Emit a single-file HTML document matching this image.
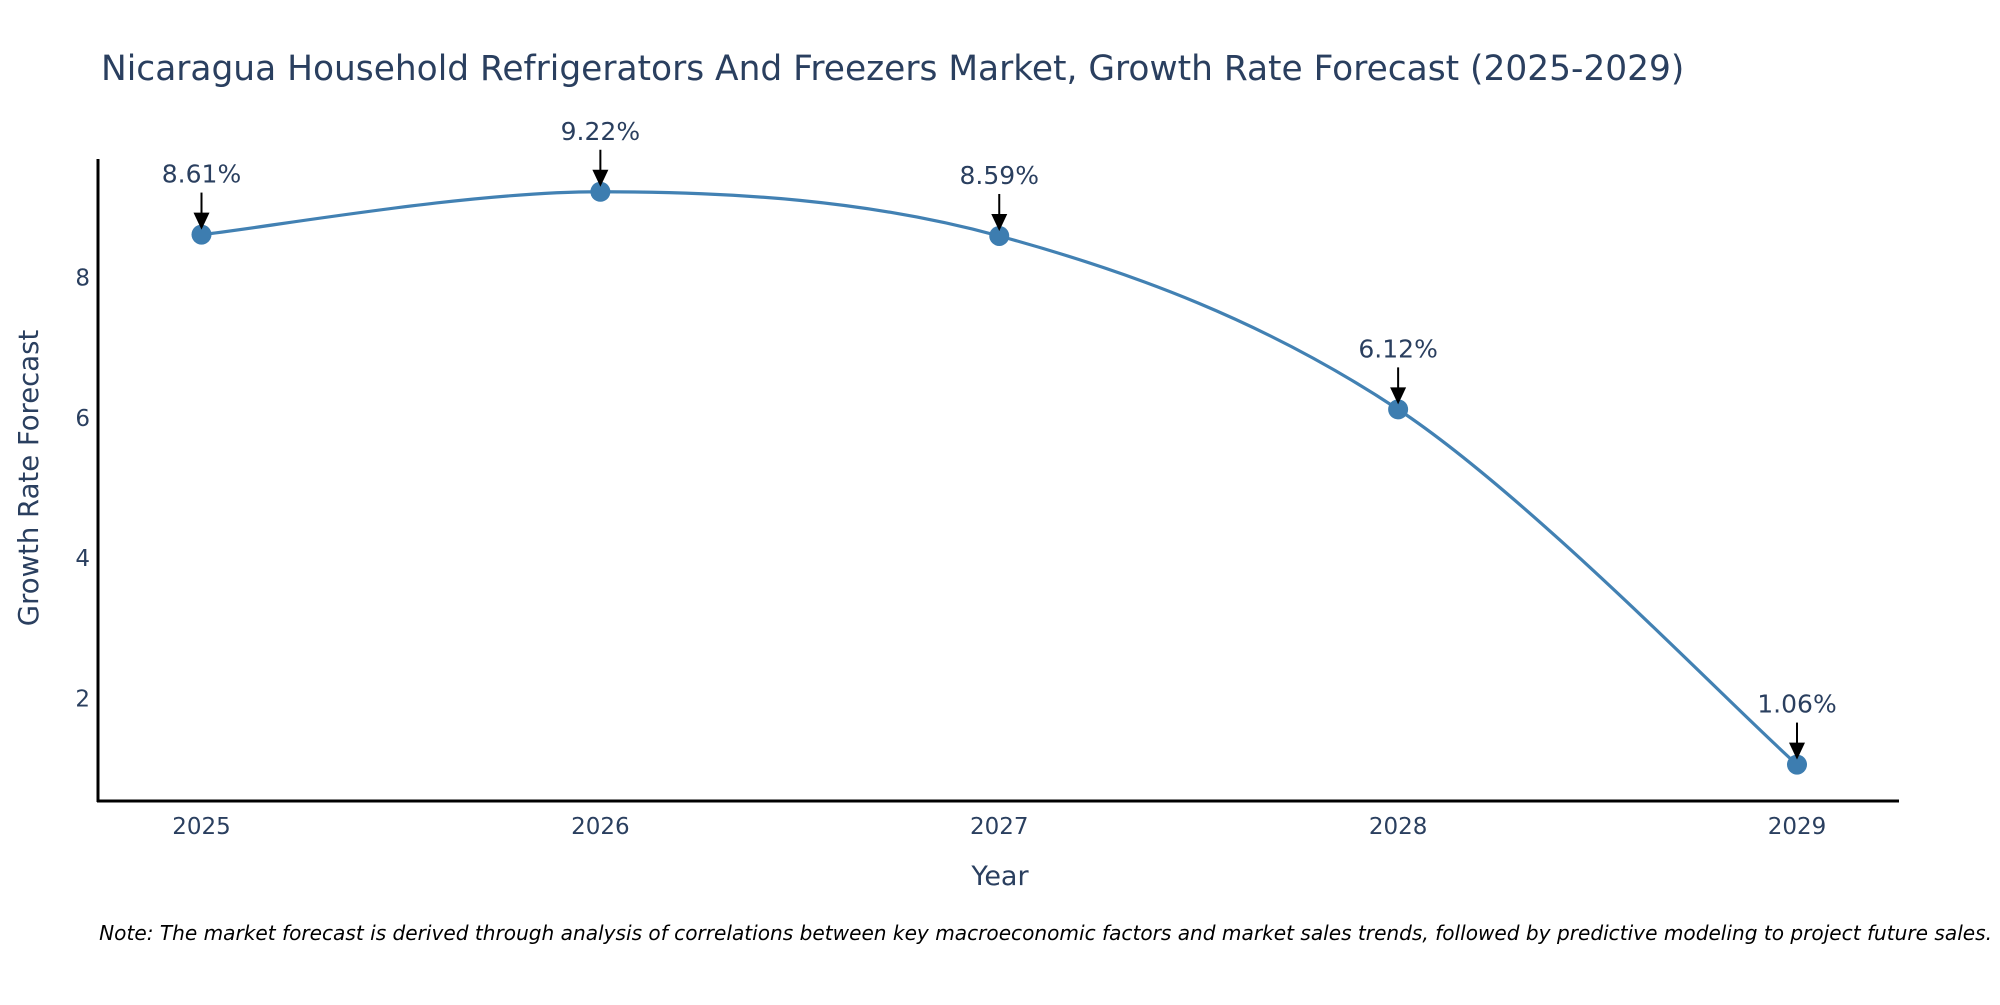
<!DOCTYPE html>
<html><head><meta charset="utf-8"><style>
body{margin:0;background:#fff;}
svg text{font-family:"DejaVu Sans","Liberation Sans",sans-serif;}
</style></head><body>
<svg id="c" width="2000" height="1000" xmlns="http://www.w3.org/2000/svg">
<text x="101" y="80" font-size="34.4" fill="#2a3f5f">Nicaragua Household Refrigerators And Freezers Market, Growth Rate Forecast (2025-2029)</text>
<g id="axes"></g>
<g id="series"></g>
<text x="1000" y="885" font-size="27" fill="#2a3f5f" text-anchor="middle">Year</text>
<text transform="translate(38,478) rotate(-90)" font-size="27.5" fill="#2a3f5f" text-anchor="middle">Growth Rate Forecast</text>
<text x="1992" y="940" font-size="20.1" font-style="italic" fill="#000" text-anchor="end">Note: The market forecast is derived through analysis of correlations between key macroeconomic factors and market sales trends, followed by predictive modeling to project future sales.</text>
</svg>
<script>
const years=["2025","2026","2027","2028","2029"];
const values=[8.61,9.22,8.59,6.12,1.06];
const yTicks=[2,4,6,8];
const NS="http://www.w3.org/2000/svg";
const x0=201.5,x1=1797,yZero=839,yUnit=70.2;
function xs(i){return x0+i*(x1-x0)/(years.length-1);}
function ys(v){return yZero-v*yUnit;}
function mk(t,a,p){const e=document.createElementNS(NS,t);for(const k in a)e.setAttribute(k,a[k]);p.appendChild(e);return e;}
const ax=document.getElementById('axes'),se=document.getElementById('series');
let l=mk('line',{x1:98,y1:159,x2:98,y2:802,stroke:'#000','stroke-width':3},ax);


l=mk('line',{x1:97,y1:801,x2:1899,y2:801,stroke:'#000','stroke-width':3},ax);


yTicks.forEach(v=>{const t=mk('text',{x:90,y:ys(v)+8,'font-size':23,fill:'#2a3f5f','text-anchor':'end'},ax);t.textContent=v;

});
years.forEach((y,i)=>{const t=mk('text',{x:xs(i),y:834,'font-size':23,fill:'#2a3f5f','text-anchor':'middle'},ax);t.textContent=y;

});
const P=values.map((v,i)=>[xs(i),ys(v)]);
let d='M'+P[0][0]+','+P[0][1];const s=0.5;
for(let i=0;i<P.length-1;i++){const p0=P[i-1]||P[i],p1=P[i],p2=P[i+1],p3=P[i+2]||P[i+1];
const c1=[p1[0]+(p2[0]-p0[0])*s/3,p1[1]+(p2[1]-p0[1])*s/3],c2=[p2[0]-(p3[0]-p1[0])*s/3,p2[1]-(p3[1]-p1[1])*s/3];
d+=' C'+c1+' '+c2+' '+p2;}
const path=mk('path',{d:d,fill:'none',stroke:'#4281b3','stroke-width':3.2},se);


values.forEach((v,i)=>{const cx=xs(i),cy=ys(v);
const c=mk('circle',{cx:cx,cy:cy,r:10,fill:'#3d7db0'},se);


const a=mk('line',{x1:cx,y1:cy-42,x2:cx,y2:cy-20,stroke:'#000','stroke-width':2},se);


const h=mk('path',{d:'M'+(cx-8)+','+(cy-22)+' L'+(cx+8)+','+(cy-22)+' L'+cx+','+(cy-5)+' Z',fill:'#000'},se);


const t=mk('text',{x:cx,y:cy-52,'font-size':25,fill:'#2a3f5f','text-anchor':'middle'},se);t.textContent=v.toFixed(2)+'%';

});
</script>
</body></html>
